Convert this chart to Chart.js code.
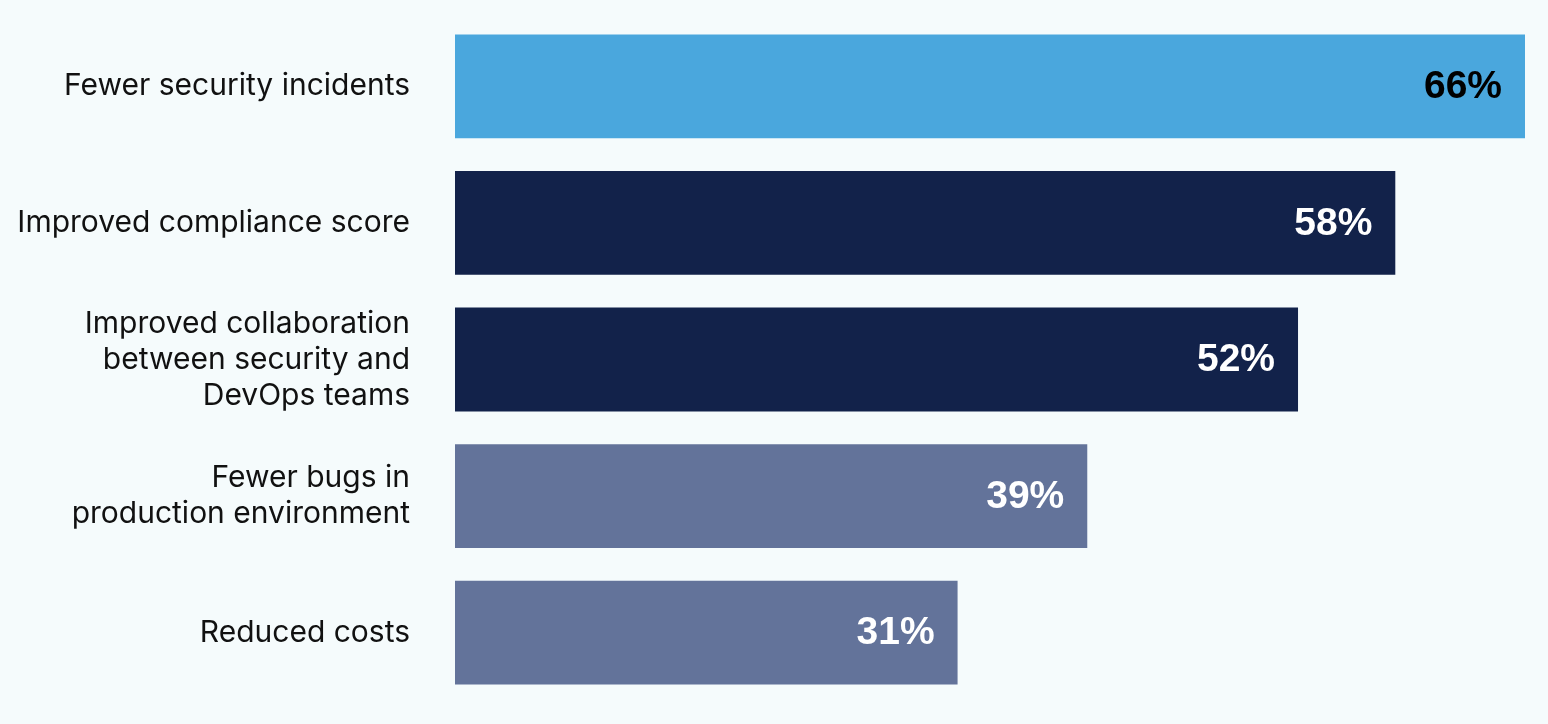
<!DOCTYPE html>
<html>
<head>
<meta charset="utf-8">
<script src="https://cdn.jsdelivr.net/npm/chart.js@4/dist/chart.umd.min.js"></script>
<style>
  html, body { margin: 0; padding: 0; background: #f5fbfc; }
  #wrap { width: 1548px; height: 724px; position: relative; }
</style>
</head>
<body>
<div id="wrap"><canvas id="c"></canvas></div>
<script>
const categories = [
  ["Fewer security incidents"],
  ["Improved compliance score"],
  ["Improved collaboration", "between security and", "DevOps teams"],
  ["Fewer bugs in", "production environment"],
  ["Reduced costs"]
];
const values = [66, 58, 52, 39, 31];
const barColors = ["#4aa7dd", "#12224a", "#12224a", "#63739a", "#63739a"];
const valueTextColors = ["#000000", "#ffffff", "#ffffff", "#ffffff", "#ffffff"];

const valueLabels = {
  id: 'valueLabels',
  afterDatasetsDraw(chart) {
    const ctx = chart.ctx;
    const meta = chart.getDatasetMeta(0);
    ctx.save();
    ctx.font = "bold 39px 'Liberation Sans', Arial, sans-serif";
    ctx.textAlign = 'right';
    ctx.textBaseline = 'middle';
    meta.data.forEach((bar, i) => {
      ctx.fillStyle = valueTextColors[i];
      ctx.fillText(values[i] + '%', bar.x - 23, bar.y + 1);
    });
    ctx.restore();
  }
};

new Chart(document.getElementById('c'), {
  type: 'bar',
  data: {
    labels: categories,
    datasets: [{
      data: values,
      backgroundColor: barColors,
      borderWidth: 0,
      barPercentage: 0.76,
      categoryPercentage: 1.0
    }]
  },
  options: {
    indexAxis: 'y',
    responsive: true,
    maintainAspectRatio: false,
    animation: false,
    layout: { padding: { left: 0, right: 23, top: 13, bottom: 23 } },
    plugins: { legend: { display: false }, tooltip: { enabled: false } },
    scales: {
      x: { display: false, min: 0, max: 66 },
      y: {
        grid: { display: false, drawTicks: true, tickLength: 45 },
        border: { display: false },
        ticks: {
          color: '#111111',
          padding: 0,
          font: { family: "Inter, 'Open Sans', sans-serif", size: 30, lineHeight: 1.2 }
        },
        afterFit(scale) { scale.width = 455; }
      }
    }
  },
  plugins: [valueLabels]
});
</script>
</body>
</html>
